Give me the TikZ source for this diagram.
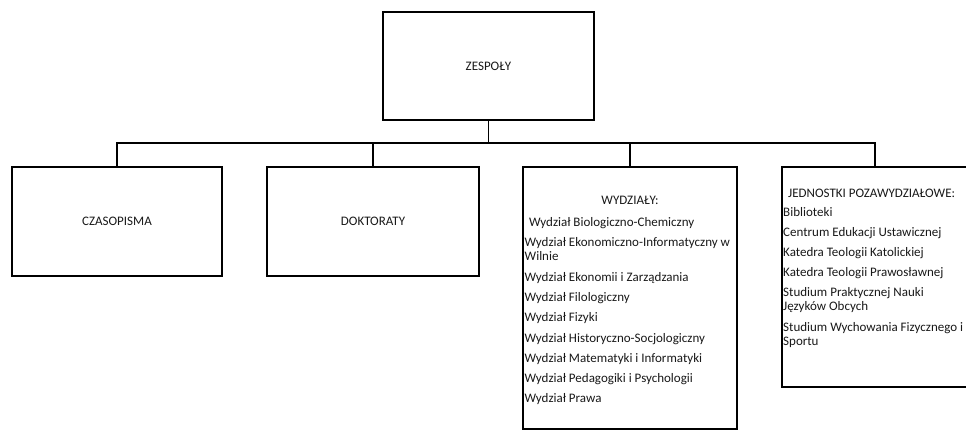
\documentclass[tikz,border=0pt]{standalone}
\usepackage{fontspec}
\setmainfont{Carlito}
\begin{document}
\begin{tikzpicture}[x=1pt,y=-1pt,
  box/.style={draw=black,line width=1.3pt,rectangle,inner sep=0pt,fill=white},
  conn/.style={draw=black,line width=1.3pt},
  txt/.style={inner sep=0pt,text=black!90,font=\fontsize{13}{14}\selectfont},
  list/.style={txt,align=left,anchor=base west}]
\useasboundingbox (0,0) rectangle (966,431);
\clip (0,0) rectangle (966,431);
\node[box,minimum width=211pt,minimum height=108pt] (top) at (488.5,66) {};
\node[txt] (ttop) at (top.center) {ZESPOŁY};
\node[box,minimum width=210pt,minimum height=109pt] (c1) at (117,221.5) {};
\node[txt] (tc1) at (c1.center) {CZASOPISMA};
\node[box,minimum width=212pt,minimum height=109pt] (c2) at (373,221.5) {};
\node[txt] (tc2) at (c2.center) {DOKTORATY};
\node[box,minimum width=214pt,minimum height=262pt] (c3) at (630,298) {};
\node[txt,anchor=base] (h3) at (630,204.7) {WYDZIAŁY:};
% anchor base = baseline of the last line (Wydział Prawa)
\node[list] (l3) at (524.5,402.9) {\hspace{4.5pt}Wydział Biologiczno-Chemiczny\\[6.3pt]
Wydział Ekonomiczno-Informatyczny w\\Wilnie\\[6.3pt]
Wydział Ekonomii i Zarządzania\\[6.3pt]
Wydział Filologiczny\\[6.3pt]
Wydział Fizyki\\[6.3pt]
Wydział Historyczno-Socjologiczny\\[6.3pt]
Wydział Matematyki i Informatyki\\[6.3pt]
Wydział Pedagogiki i Psychologii\\[6.3pt]
Wydział Prawa};
\node[box,minimum width=214pt,minimum height=220pt] (c4) at (889,277) {};
\coordinate (s4) at (875,167);
\node[list] (l4) at (783,345) {\hspace{5pt}JEDNOSTKI POZAWYDZIAŁOWE:\\[5pt]
Biblioteki\\[6.2pt]
Centrum Edukacji Ustawicznej\\[6.2pt]
Katedra Teologii Katolickiej\\[6.2pt]
Katedra Teologii Prawosławnej\\[6.2pt]
Studium Praktycznej Nauki\\Języków Obcych\\[6.2pt]
Studium Wychowania Fizycznego i\\Sportu};
\coordinate (bus) at (488.5,143);
\draw[conn] (top.south) -- (bus);
\draw[conn] (c1.north) |- (bus);
\draw[conn] (c2.north) -- (c2.north |- bus);
\draw[conn] (c3.north) -- (c3.north |- bus);
\draw[conn] (s4) |- (bus);
\end{tikzpicture}
\end{document}
